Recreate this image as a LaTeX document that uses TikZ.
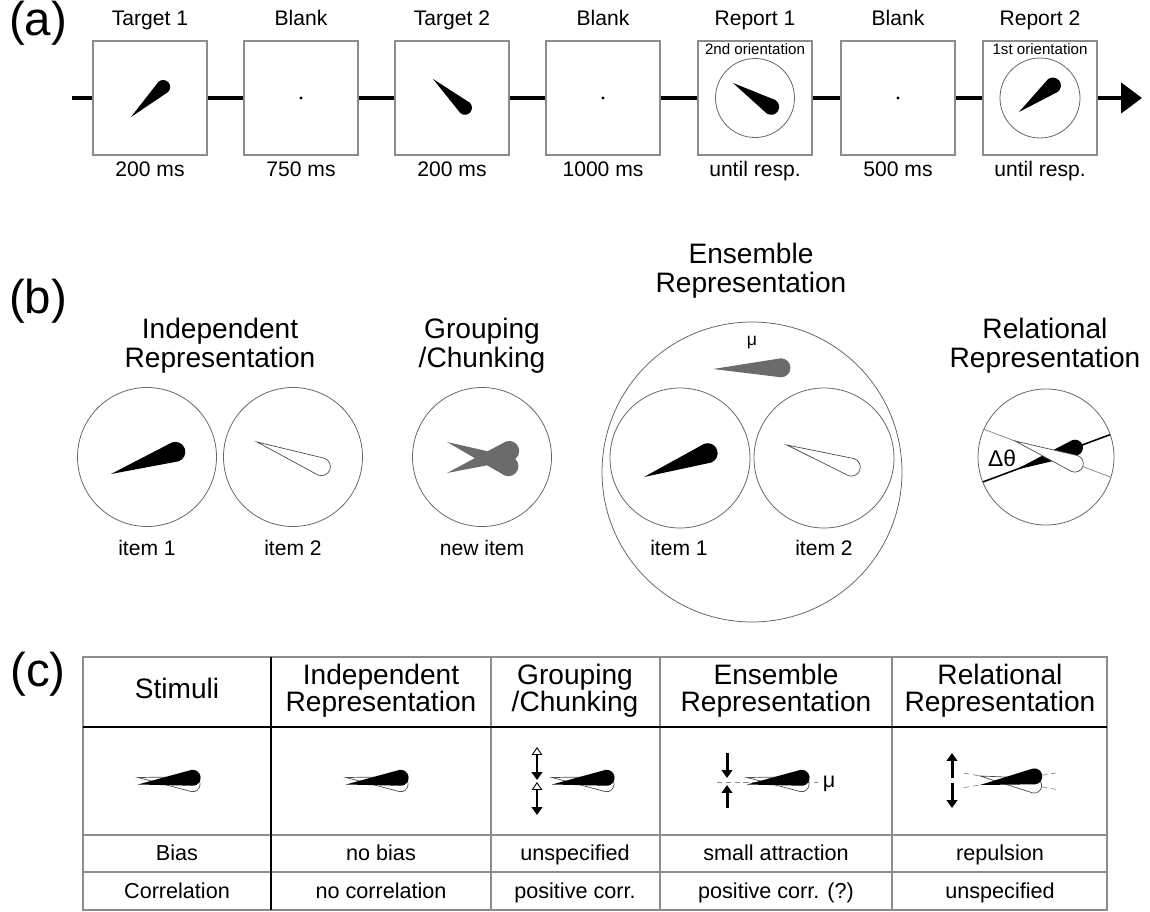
\documentclass[tikz,border=0pt]{standalone}
\usepackage{fontspec}
\setmainfont{Liberation Sans}
\usetikzlibrary{arrows.meta,positioning}

\definecolor{linegray}{gray}{0.55}
\definecolor{meangray}{gray}{0.42}

\tikzset{
  pics/needle/.style args={#1/#2}{code={
      \path[pic actions] (0,0) -- (#1,#2) arc[start angle=90, end angle=-90, radius=#2] -- cycle;
    }},
  pics/stimpair/.style={code={
      \pic[whiteneedle, rotate=-7] at (0,-3.5) {needle=55/7.5};
      \pic[blackneedle, rotate=7] at (0,3.5) {needle=55/8};
    }},
  screen/.style={draw=linegray, fill=white, line width=0.6pt, minimum size=2.28cm, inner sep=0pt},
  timeline/.style={line width=2.6pt},
  ring/.style={draw=black!60, line width=0.45pt},
  blackneedle/.style={fill=black},
  whiteneedle/.style={draw=black!70, fill=white, line width=0.4pt},
  grayneedle/.style={fill=meangray},
  panel/.style={font=\fontsize{27}{30}\selectfont},
  tlabel/.style={font=\fontsize{12}{14}\selectfont, anchor=base},
  orient/.style={font=\fontsize{8.6}{10}\selectfont, anchor=base},
  htitle/.style={font=\fontsize{16}{16.4}\selectfont, align=center},
  colhead/.style={font=\fontsize{16}{15.3}\selectfont, align=center},
  cell/.style={font=\fontsize{12.3}{14}\selectfont, anchor=base},
  tline/.style={draw=linegray, line width=0.6pt},
  thickline/.style={draw=black, line width=1.4pt},
  axisline/.style={draw=linegray, line width=0.4pt, densely dashed},
  shiftarrow/.style={line width=1.7pt, -{Triangle[length=4.5pt, width=6pt]}},
  grouparrow/.style={line width=1.7pt,
    {Triangle[open, fill=white, line width=0.5pt, length=4.5pt, width=6pt]}-{Triangle[length=4.5pt, width=6pt]}},
}

\begin{document}
\begin{tikzpicture}[x=0.02cm, y=-0.02cm]
  \useasboundingbox (0,0) rectangle (1150,912);

  % (a) trial sequence
  \node[panel] (pa) at (38,23) {(a)};
  \foreach \x/\ttl/\dur/\i in {150/Target 1/200 ms/1, 301/Blank/750 ms/2, 452/Target 2/200 ms/3,
      603/Blank/1000 ms/4, 755/Report 1/until resp./5, 898/Blank/500 ms/6, 1040/Report 2/until resp./7}{
    \node[screen] (f\i) at (\x,98) {};
    \node[tlabel] (t\i) at (\x,26) {\ttl};
    \node[tlabel] (d\i) at (\x,177) {\dur};
  }
  \coordinate (tstart) at (72,98);
  \coordinate (tend) at (1142,98);
  \draw[timeline] (tstart) -- (f1.west);
  \foreach \i [count=\j from 2] in {1,...,6}
    \draw[timeline] (f\i.east) -- (f\j.west);
  \draw[timeline, -{Triangle[length=0.42cm, width=0.6cm]}] (f7.east) -- (tend);

  \foreach \i in {2,4,6}
    \fill (f\i) circle (1.6);
  \pic[blackneedle, rotate=43] at (131,117) {needle=44/7};
  \pic[blackneedle, rotate=-42] at (433,79) {needle=43/7};
  \draw[ring] (f5) circle (39.5);
  \node[orient] at (755,55) {2nd orientation};
  \pic[blackneedle, rotate=-32] at (733,83) {needle=45/8};
  \draw[ring] (f7) circle (40);
  \node[orient] at (1040,55) {1st orientation};
  \pic[blackneedle, rotate=38] at (1019,112) {needle=43/8};

  % (b) models
  \node[panel] (pb) at (38,301) {(b)};
  \node[htitle] (tind) at (220,346) {Independent\\Representation};
  \node[htitle] (tgrp) at (482,346) {Grouping\\/Chunking};
  \node[htitle] (tens) at (751,271) {Ensemble\\Representation};
  \node[htitle] (trel) at (1045,346) {Relational\\Representation};

  \draw[ring] (147,457) circle (69.5);
  \draw[ring] (293,457) circle (69.5);
  \pic[blackneedle, rotate=19] at (111,474) {needle=68/10};
  \pic[whiteneedle, rotate=-21] at (257,442) {needle=69/9};
  \node[tlabel] at (147,555) {item 1};
  \node[tlabel] at (293,555) {item 2};

  \draw[ring] (482,457) circle (69.5);
  \pic[grayneedle, rotate=-21.5] at (447,442) {needle=66/10};
  \pic[grayneedle, rotate=19.5] at (447,473) {needle=66/10};
  \node[tlabel] at (482,555) {new item};

  \draw[ring] (752,472) circle (150);
  \node[font=\fontsize{10}{12}\selectfont] at (752,343) {μ};
  \pic[grayneedle, rotate=1] at (713,369) {needle=68/9.5};
  \draw[ring] (680,458) circle (70);
  \draw[ring] (824,458) circle (70);
  \pic[blackneedle, rotate=20.5] at (644,477) {needle=68/10};
  \pic[whiteneedle, rotate=-19] at (787,445) {needle=68/9};
  \node[tlabel] at (679,555) {item 1};
  \node[tlabel] at (824,555) {item 2};

  \begin{scope}
    \clip (1046,457) circle (68);
    \begin{scope}[shift={(1015,470)}, rotate=20.4]
      \draw[line width=0.9pt] (-60,0) -- (130,0);
      \pic[blackneedle, transform shape] {needle=64/8};
    \end{scope}
    \begin{scope}[shift={(1015,441)}, rotate=-20.7]
      \draw[linegray, line width=0.45pt] (-60,0) -- (130,0);
      \pic[whiteneedle, transform shape] {needle=64/8.5};
    \end{scope}
  \end{scope}
  \draw[ring] (1046,457) circle (68);
  \node[font=\fontsize{13}{15}\selectfont] at (1002,458) {Δθ};

  % (c) predictions
  \node[panel] (pc) at (38,674) {(c)};
  \draw[tline] (83,657) rectangle (1107,910);
  \foreach \x in {491,660,892}
    \draw[tline] (\x,657) -- (\x,910);
  \foreach \y in {835,872}
    \draw[tline] (83,\y) -- (1107,\y);
  \draw[thickline] (83,727) -- (1107,727);
  \draw[thickline] (271,657) -- (271,910);

  \node[colhead, anchor=base] at (177,698) {Stimuli};
  \node[colhead] at (381,691) {Independent\\Representation};
  \node[colhead] at (575,691) {Grouping\\/Chunking};
  \node[colhead] at (776,691) {Ensemble\\Representation};
  \node[colhead] at (1000,691) {Relational\\Representation};

  \foreach \x/\b/\c in {177/Bias/Correlation, 381/no bias/no correlation, 575/unspecified/positive corr.,
      776/small attraction/positive corr. (?), 1000/repulsion/unspecified}{
    \node[cell] at (\x,860) {\b};
    \node[cell] at (\x,898) {\c};
  }

  \pic at (138,781) {stimpair};
  \pic at (346,781) {stimpair};

  \draw[grouparrow] (537,747) -- (537,780);
  \draw[grouparrow] (537,782) -- (537,815);
  \pic at (552,781) {stimpair};

  \draw[axisline] (717,782) -- (818,782);
  \draw[shiftarrow] (727,753) -- (727,778);
  \draw[shiftarrow] (727,808) -- (727,785);
  \pic at (747,781) {stimpair};
  \node[font=\fontsize{12.3}{14}\selectfont] at (829,784) {μ};

  \draw[shiftarrow] (952,778) -- (952,753);
  \draw[shiftarrow] (952,783) -- (952,808);
  \begin{scope}[shift={(980,776)}, rotate=-10]
    \draw[axisline] (-16,0) -- (78,0);
    \pic[whiteneedle, transform shape] {needle=55/7.5};
  \end{scope}
  \begin{scope}[shift={(980,785)}, rotate=9]
    \draw[axisline] (-16,0) -- (78,0);
    \pic[blackneedle, transform shape] {needle=55/8};
  \end{scope}
\end{tikzpicture}
\end{document}
